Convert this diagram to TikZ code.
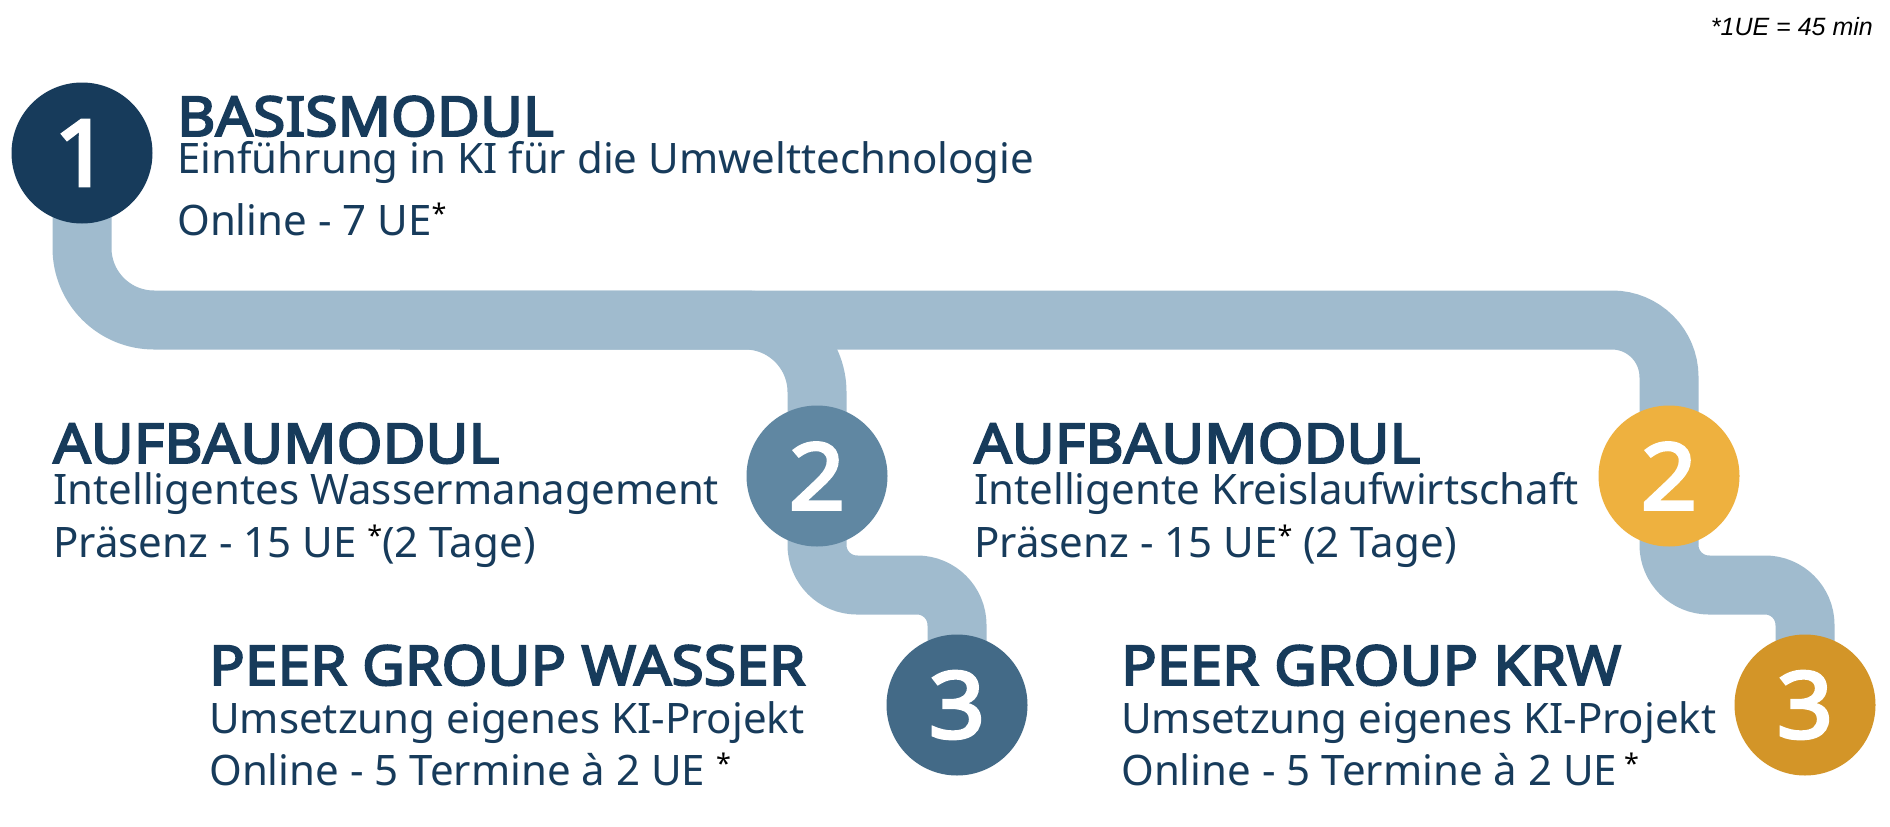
\documentclass[tikz,border=0pt]{standalone}
\usepackage{fontspec}
\setmainfont{Noto Sans}
\IfFontExistsTF{Noto Sans Bold}{\newfontfamily\boldfont{Noto Sans Bold}}{%
    \IfFontExistsTF{NotoSans-Bold.ttf}{\newfontfamily\boldfont{NotoSans-Bold.ttf}}{%
        \newfontfamily\boldfont{Noto Sans}[FakeBold=3.5, FakeStretch=1.07]}}
\newfontfamily\notefont{Liberation Sans}
\usetikzlibrary{backgrounds}
\definecolor{navy}{RGB}{23,59,91}
\definecolor{pipeblue}{RGB}{160,187,206}
\definecolor{wasserlight}{RGB}{96,135,162}
\definecolor{wasserdark}{RGB}{67,106,135}
\definecolor{krwlight}{RGB}{238,177,63}
\definecolor{krwdark}{RGB}{211,149,40}
\newcommand{\uestar}{{\color{black}\fontsize{27}{27}\selectfont\raisebox{12pt}{*}}}

\begin{document}
    \begin{tikzpicture}[x=1pt, y=-1pt,
        stepnum/.style={circle, minimum size=141pt, inner sep=0pt, text=white, font=\boldfont\fontsize{92}{92}\selectfont},
        modtitle/.style={anchor=base west, inner sep=0pt, text=navy, font=\boldfont\fontsize{55}{55}\selectfont},
        modtext/.style={anchor=base west, inner sep=0pt, text=navy, font=\fontsize{42}{42}\selectfont},
        pipe/.style={draw=pipeblue, line width=59pt}]
        \useasboundingbox (0,0) rectangle (1890,827);
        \coordinate (rail) at (0,320);
        \coordinate (railmid) at (400,320);
        \coordinate (bend) at (0,585);
        \node[stepnum, fill=navy] (n1) at (82,153) {1};
        \node[stepnum, fill=wasserlight] (n2w) at (817,476) {2};
        \node[stepnum, fill=wasserdark] (n3w) at (957,705) {3};
        \node[stepnum, fill=krwlight] (n2k) at (1669,476) {2};
        \node[stepnum, fill=krwdark] (n3k) at (1805,705) {3};
        \begin{pgfonlayer}{background}
            \fill[white] (0,0) rectangle (1890,827);
            \draw[pipe, rounded corners=72pt] (n1.center) -- (n1.center |- rail) -- (n2w.center |- rail) -- (n2w.center);
            \draw[pipe, rounded corners=57pt] (railmid) -- (n2k.center |- rail) -- (n2k.center);
            \draw[pipe, rounded corners=40pt] (n2w.center) -- (n2w.center |- bend) -- (n3w.center |- bend) -- (n3w.center);
            \draw[pipe, rounded corners=40pt] (n2k.center) -- (n2k.center |- bend) -- (n3k.center |- bend) -- (n3k.center);
        \end{pgfonlayer}
        \node[anchor=base east, inner sep=0pt, font=\notefont\itshape\fontsize{25}{25}\selectfont] (note) at (1873,35) {*1UE = 45 min};
        \node[modtitle] (basis) at (177,136) {BASISMODUL};
        \node[modtext] (basisinfo) at (177,173) {Einführung in KI für die Umwelttechnologie};
        \node[modtext] (basisform) at (177,235) {Online - 7 UE\uestar};
        \node[modtitle] (wtitle) at (53,463) {AUFBAUMODUL};
        \node[modtext] (winfo) at (53,504) {Intelligentes Wassermanagement};
        \node[modtext] (wform) at (53,557) {Präsenz - 15 UE \uestar(2 Tage)};
        \node[modtitle] (ktitle) at (974,463) {AUFBAUMODUL};
        \node[modtext] (kinfo) at (974,504) {Intelligente Kreislaufwirtschaft};
        \node[modtext] (kform) at (974,557) {Präsenz - 15 UE\uestar{} (2 Tage)};
        \node[modtitle] (pwtitle) at (209,685) {PEER GROUP WASSER};
        \node[modtext] (pwinfo) at (209,733) {Umsetzung eigenes KI-Projekt};
        \node[modtext] (pwform) at (209,785) {Online - 5 Termine à 2 UE \uestar};
        \node[modtitle] (pktitle) at (1121,685) {PEER GROUP KRW};
        \node[modtext] (pkinfo) at (1121,733) {Umsetzung eigenes KI-Projekt};
        \node[modtext] (pkform) at (1121,785) {Online - 5 Termine à 2 UE\,\uestar};
    \end{tikzpicture}
\end{document}
